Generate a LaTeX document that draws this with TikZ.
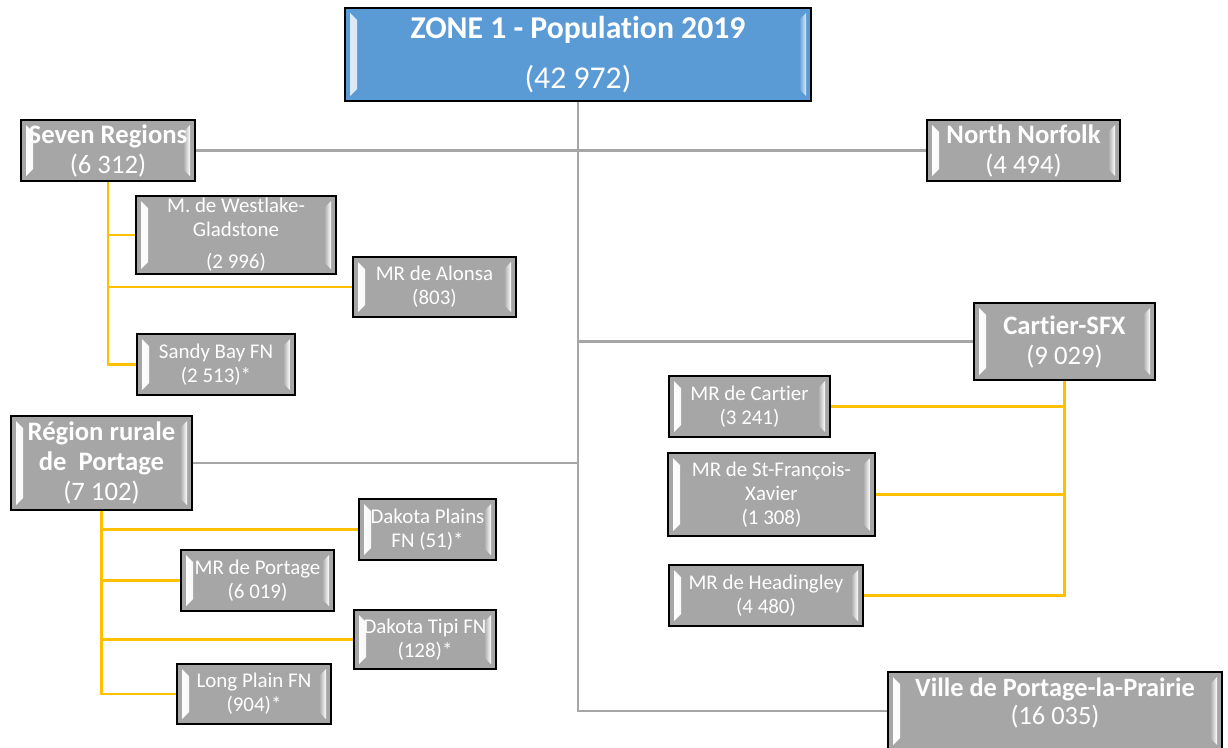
\documentclass[tikz,border=0pt]{standalone}
\usepackage{fontspec}
\setmainfont{Carlito}[Ligatures=NoCommon]
\definecolor{boxgray}{HTML}{A6A6A6}
\definecolor{zblue}{HTML}{5B9BD5}
\definecolor{zlight}{HTML}{DDEBF7}
\definecolor{lineg}{HTML}{A6A6A6}
\definecolor{liney}{HTML}{FFC000}
\tikzset{
 strips/.style 2 args={path picture={
   \fill[left color=#2, right color=#1]
     ([shift={(5,5)}]path picture bounding box.north west) --
     ([shift={(12,12)}]path picture bounding box.north west) --
     ([shift={(12,-12)}]path picture bounding box.south west) --
     ([shift={(5,-5)}]path picture bounding box.south west) -- cycle;
   \fill[left color=#1, right color=#2]
     ([shift={(-12,12)}]path picture bounding box.north east) --
     ([shift={(-5,5)}]path picture bounding box.north east) --
     ([shift={(-5,-5)}]path picture bounding box.south east) --
     ([shift={(-12,-12)}]path picture bounding box.south east) -- cycle;
 }},
 gbox/.style={draw=black, line width=1.4pt, fill=boxgray, text=white, align=center, inner sep=0pt, strips={boxgray}{white}},
 bbox/.style={draw=black, line width=1.4pt, fill=zblue, text=white, align=center, inner sep=0pt, strips={zblue}{zlight}},
 lift/.style={execute at begin node={\rule{0pt}{#1}}},
 sink/.style={execute at end node={\rule[-#1]{0pt}{0pt}}},
 big/.style={font=\fontsize{20}{22.5}\selectfont, lift=0.95em},
 small/.style={font=\fontsize{15.7}{18}\selectfont, lift=0.95em},
 gline/.style={draw=lineg, line width=2.2pt},
 yline/.style={draw=liney, line width=2.2pt},
}
\begin{document}
\begin{tikzpicture}[x=0.75pt,y=-0.75pt]
\useasboundingbox (0,0) rectangle (1228,747);
% main boxes
\node[bbox, minimum width=349.5pt, minimum height=69.75pt, font=\fontsize{23.8}{28}\selectfont, lift=0.92em] (top) at (578,54.5) {\textbf{ZONE 1 - Population 2019}\\[9pt](42 972)};
\node[gbox, big, minimum width=130.5pt, minimum height=45.75pt] (seven) at (108,150.5) {\textbf{Seven Regions}\\(6 312)};
\node[gbox, big, minimum width=144.75pt, minimum height=45.75pt] (norfolk) at (1023.5,150.5) {\textbf{North Norfolk}\\(4 494)};
\node[gbox, big, minimum width=135.75pt, minimum height=70.5pt] (rural) at (101.5,463) {\textbf{Région rurale}\\\textbf{de\ \ Portage}\\(7 102)};
\node[gbox, big, minimum width=135.75pt, minimum height=57.75pt] (cartier) at (1064.5,341.5) {\textbf{Cartier-SFX}\\(9 029)};
\node[gbox, font=\fontsize{19.8}{21}\selectfont, sink=15pt, minimum width=250.5pt, minimum height=58.5pt] (ville) at (1055,711) {\textbf{Ville de Portage-la-Prairie}\\(16 035)};
% small boxes
\node[gbox, small, lift=1.0em, minimum width=150pt, minimum height=58.5pt] (westlake) at (236,235) {M. de Westlake-\\Gladstone\\[6pt](2 996)};
\node[gbox, small, minimum width=122.25pt, minimum height=45pt] (alonsa) at (434.5,287) {MR de Alonsa\\(803)};
\node[gbox, small, minimum width=118.5pt, minimum height=45.75pt] (sandy) at (216,364.5) {Sandy Bay FN\\(2 513)*};
\node[gbox, small, minimum width=102.75pt, minimum height=45.75pt] (dplains) at (427.5,529.5) {Dakota Plains\\FN (51)*};
\node[gbox, small, minimum width=114.75pt, minimum height=45.75pt] (mrportage) at (257.5,580.5) {MR de Portage\\(6 019)};
\node[gbox, small, minimum width=106.5pt, minimum height=44.25pt] (dtipi) at (425,639.5) {Dakota Tipi FN\\(128)*};
\node[gbox, small, minimum width=115.5pt, minimum height=45pt] (longplain) at (254,694) {Long Plain FN\\(904)*};
\node[gbox, small, minimum width=120.75pt, minimum height=45.75pt] (mrcartier) at (749.5,406.5) {MR de Cartier\\(3 241)};
\node[gbox, small, minimum width=155.25pt, minimum height=62.25pt] (stfx) at (771.5,494.5) {MR de St-François-\\Xavier\\(1 308)};
\node[gbox, small, minimum width=145.5pt, minimum height=45.75pt] (headingley) at (766,595.5) {MR de Headingley\\(4 480)};
% gray connectors
\draw[gline] (top.south) |- (ville.west);
\draw[gline] (seven.east) -- (norfolk.west);
\draw[gline] (top.south |- cartier.west) -- (cartier.west);
\draw[gline] (rural.east) -- (top.south |- rural.east);
% yellow connectors
\draw[yline] (seven.south) |- (westlake.west);
\draw[yline] (seven.south) |- (alonsa.west);
\draw[yline] (seven.south) |- (sandy.west);
\draw[yline] (rural.south) |- (dplains.west);
\draw[yline] (rural.south) |- (mrportage.west);
\draw[yline] (rural.south) |- (dtipi.west);
\draw[yline] (rural.south) |- (longplain.west);
\draw[yline] (cartier.south) |- (mrcartier.east);
\draw[yline] (cartier.south) |- (stfx.east);
\draw[yline] (cartier.south) |- (headingley.east);
\end{tikzpicture}
\end{document}
